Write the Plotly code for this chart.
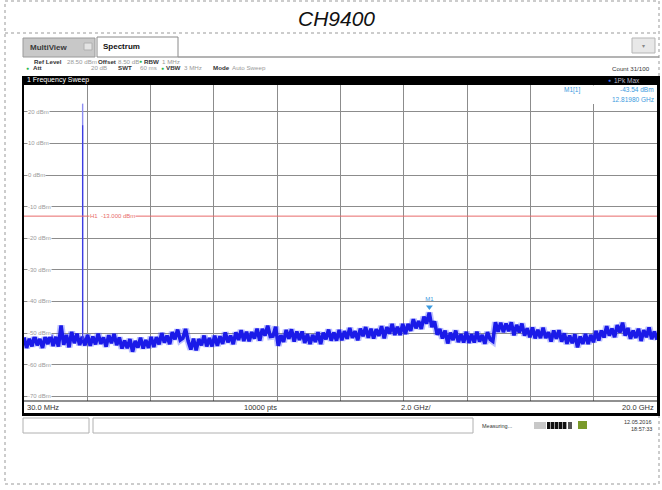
import plotly.graph_objects as go

# ---------------- data ----------------
f_start_ghz = 0.03
f_stop_ghz = 20.0
ref_level_dbm = 28.5
display_range_db = 100.0

# displayed sweep (decimated from 10000 pts), dBm
trace_dbm = [
    -51.4, -54.7, -51.8, -54.2, -50.8, -53.9, -51.9, -54.7, -51.1, -53.5, -50.6, -54.1,
    -51.2, -54.3, -47.6, -53.7, -50.6, -54.5, -49.6, -53.2, -50.2, -53.8, -51.2, -53.9,
    -50.6, -54.0, -51.1, -53.6, -50.2, -53.4, -51.4, -54.3, -50.7, -53.2, -50.3, -53.8,
    -51.4, -54.9, -52.4, -54.8, -51.9, -55.9, -52.5, -54.6, -51.5, -54.9, -52.2, -54.7,
    -51.2, -54.4, -51.3, -53.6, -50.0, -53.0, -50.8, -53.5, -49.7, -52.0, -48.9, -52.2,
    -51.6, -48.7, -52.6, -55.2, -51.8, -55.5, -51.9, -53.9, -50.8, -54.2, -51.6, -54.2,
    -50.8, -54.0, -51.0, -53.4, -49.8, -52.9, -50.8, -53.5, -49.8, -52.2, -49.1, -52.5,
    -49.6, -52.6, -49.7, -51.7, -48.6, -52.4, -48.7, -50.8, -47.7, -51.1, -51.0, -48.0,
    -54.0, -50.7, -52.8, -49.0, -51.8, -48.8, -52.7, -49.5, -52.2, -49.5, -53.1, -50.4,
    -53.5, -50.6, -52.8, -49.7, -53.5, -49.9, -52.0, -48.9, -52.4, -49.8, -52.4, -49.0,
    -52.3, -49.4, -51.8, -48.4, -51.5, -49.4, -52.3, -48.6, -51.0, -48.1, -51.5, -48.6,
    -51.7, -48.8, -50.9, -47.8, -51.7, -48.1, -50.2, -47.1, -50.6, -48.0, -50.6, -47.1,
    -50.3, -47.1, -49.3, -45.6, -48.5, -46.2, -48.7, -44.8, -47.0, -43.54, -48.1, -46.3,
    -50.5, -48.7, -51.7, -49.2, -53.3, -49.9, -52.2, -49.2, -52.9, -50.4, -53.0, -49.6,
    -53.1, -50.4, -53.0, -49.6, -52.7, -50.6, -53.4, -49.7, -52.0, -52.6, -46.6, -49.6,
    -46.7, -49.7, -47.0, -49.4, -46.6, -50.7, -47.4, -49.8, -47.0, -50.8, -48.5, -51.3,
    -48.2, -51.7, -49.0, -51.6, -48.3, -51.6, -49.7, -52.7, -49.2, -51.8, -49.1, -52.7,
    -50.1, -53.4, -50.8, -53.2, -50.4, -54.5, -51.1, -53.4, -50.3, -53.5, -50.6, -52.9,
    -49.3, -52.4, -49.2, -51.4, -47.8, -50.8, -48.6, -51.3, -47.5, -49.8, -46.7, -50.8,
    -48.4, -51.8, -49.2, -51.5, -48.6, -52.5, -49.1, -51.3, -48.2, -51.9, -49.5, -52.1,
]

carrier_freq_ghz = 1.88
carrier_peaks_dbm = [22.6, 15.8]
carrier_base_dbm = -52.0

ref_line_dbm = -13.0
marker_freq_ghz = 12.8198
marker_level_dbm = -43.54

y_ticks = [20, 10, 0, -10, -20, -30, -40, -50, -60, -70]
y_tick_labels = ["20 dBm", "10 dBm", "0 dBm", "-10 dBm", "-20 dBm",
                 "-30 dBm", "-40 dBm", "-50 dBm", "-60 dBm", "-70 dBm"]
n_divisions = 10

# ---------------- layout helpers (pixel -> paper) ----------------
W, H = 662, 490
PL, PR, PT, PB = 24, 657, 85, 401
UI = "Liberation Sans"


def px(x):
    return (x - PL) / (PR - PL)


def py(y):
    return (PB - y) / (PB - PT)


n = len(trace_dbm)
span = f_stop_ghz - f_start_ghz
freqs = [f_start_ghz + i * span / (n - 1) for i in range(n)]
grid_x = [f_start_ghz + k * span / n_divisions for k in range(1, n_divisions)]

fig = go.Figure()

# trace fuzz + trace
fig.add_trace(go.Scatter(x=freqs, y=trace_dbm, mode="lines",
                         line=dict(color="rgba(70,80,255,0.35)", width=7),
                         hoverinfo="skip", showlegend=False))
fig.add_trace(go.Scatter(x=freqs, y=trace_dbm, mode="lines",
                         line=dict(color="#1a1ae8", width=3.6),
                         showlegend=False))
# carrier
fig.add_trace(go.Scatter(x=[carrier_freq_ghz, carrier_freq_ghz],
                         y=[carrier_base_dbm, carrier_peaks_dbm[0]], mode="lines",
                         line=dict(color="#8d8df2", width=1.4), showlegend=False))
fig.add_trace(go.Scatter(x=[carrier_freq_ghz, carrier_freq_ghz],
                         y=[carrier_base_dbm, carrier_peaks_dbm[1]], mode="lines",
                         line=dict(color="#3a3ae0", width=1.2), showlegend=False))
# reference line H1
fig.add_trace(go.Scatter(x=[f_start_ghz, f_stop_ghz], y=[ref_line_dbm, ref_line_dbm],
                         mode="lines", line=dict(color="#e86a6a", width=1),
                         showlegend=False))
# marker M1
fig.add_trace(go.Scatter(x=[marker_freq_ghz], y=[marker_level_dbm + 1.8], mode="markers+text",
                         marker=dict(symbol="triangle-down", size=6, color="#3c9be0"),
                         text=["M1"], textposition="top center",
                         textfont=dict(size=6, color="#3c9be0", family=UI),
                         showlegend=False))

shapes = []
annotations = []


def rect(x0, y0, x1, y1, fill=None, line=None, lw=1, dash=None, layer="above"):
    d = dict(type="rect", xref="paper", yref="paper",
             x0=px(x0), x1=px(x1), y0=py(y1), y1=py(y0), layer=layer,
             line=dict(width=lw if line else 0, color=line or "rgba(0,0,0,0)"))
    if dash:
        d["line"]["dash"] = dash
    if fill:
        d["fillcolor"] = fill
    shapes.append(d)


def hline(x0, x1, y, color, lw=1, dash=None):
    d = dict(type="line", xref="paper", yref="paper", x0=px(x0), x1=px(x1),
             y0=py(y), y1=py(y), line=dict(color=color, width=lw))
    if dash:
        d["line"]["dash"] = dash
    shapes.append(d)


def text(x, y, s, size=7, color="#333", anchor="left", bold=False, bg=None, family=UI):
    a = dict(xref="paper", yref="paper", x=px(x), y=py(y), text=("<b>%s</b>" % s) if bold else s,
             showarrow=False, xanchor=anchor, yanchor="middle",
             font=dict(size=size, color=color, family=family), borderpad=0)
    if bg:
        a["bgcolor"] = bg
    annotations.append(a)


# outer dotted frame and title separator
rect(5, 1, 659, 484, line="#999", lw=1, dash="dot")
hline(5, 659, 33, "#999", 1, "dot")
text(336, 18, "<i>CH9400</i>", size=21, color="#111", anchor="center", family="Liberation Sans")

# tabs
rect(23, 38, 95, 57, fill="#c8c8c8", line="#9a9a9a")
rect(84, 43, 92, 50, fill="#e4e4e4", line="#b0b0b0")
rect(97, 37, 178, 57, fill="#ffffff", line="#8a8a8a")
hline(178, 659, 57, "#9a9a9a", 1.5)
text(29, 47, "MultiView", size=8, color="#3a3a3a", bold=True)
text(102, 46, "Spectrum", size=8, color="#111", bold=True)
rect(632, 38, 655, 53, fill="#e8e8e8", line="#b5b5b5")
text(643.5, 45.5, "▾", size=6, color="#888", anchor="center")

# setting lines
S = 6.2
text(33, 61, "Ref Level", S, "#333", bold=True)
text(66, 61, "28.50 dBm", S, "#999")
text(97, 61, "Offset", S, "#333", bold=True)
text(117, 61, "8.50 dB", S, "#999")
text(140, 61, "●", 5, "#2db84a", anchor="center")
text(143, 61, "RBW", S, "#333", bold=True)
text(161, 61, "1 MHz", S, "#999")
text(27, 68, "●", 5, "#2db84a", anchor="center")
text(32, 68, "Att", S, "#333", bold=True)
text(108, 68, "20 dB", S, "#999", anchor="right")
text(117, 68, "SWT", S, "#333", bold=True)
text(158, 68, "60 ms", S, "#999", anchor="right")
text(162, 68, "●", 5, "#2db84a", anchor="center")
text(165, 68, "VBW", S, "#333", bold=True)
text(183, 68, "3 MHz", S, "#999")
text(212, 68, "Mode", S, "#333", bold=True)
text(231, 68, "Auto Sweep", S, "#999")
text(651, 69, "Count 31/100", S, "#333", anchor="right")

# black title bar of the window
rect(22, 76, 660, 85, fill="#000000")
text(26, 80.5, "1 Frequency Sweep", 7, "#ffffff")
text(609, 80.5, "●", 5, "#3a6cf0", anchor="center")
text(613, 80.5, "1Pk Max", 6.5, "#b8b8c8")

# frame
rect(22, 76, 24, 416, fill="#000000")
rect(657, 76, 660, 416, fill="#000000")
rect(22, 413, 660, 416, fill="#000000")
hline(24, 657, 401, "#222", 1.2)

# marker info box
rect(545, 85.5, 656.5, 104, fill="#ffffff")
text(563, 90, "M1[1]", 6.5, "#3c9be0")
text(655, 90, "-43.54 dBm", 6.5, "#3c9be0", anchor="right")
text(655, 99.5, "12.81980 GHz", 6.5, "#3c9be0", anchor="right")

# y labels
for v, lab in zip(y_ticks, y_tick_labels):
    yp = PT + (ref_level_dbm - v) / display_range_db * (PB - PT)
    text(27, yp, lab, 6, "#9a9a9a", bg="#ffffff")

# H1 label
yh = PT + (ref_level_dbm - ref_line_dbm) / display_range_db * (PB - PT)
text(89, yh, "H1  -13.000 dBm", 6, "#e86a6a", bg="#ffffff")

# bottom labels
text(26, 407.5, "30.0 MHz", 7.5, "#333")
text(260, 407.5, "10000 pts", 7.5, "#333", anchor="center")
text(400, 407.5, "2.0 GHz/", 7.5, "#333")
text(655, 407.5, "20.0 GHz", 7.5, "#333", anchor="right")

# status bar
rect(23, 418, 89, 433, fill="#ffffff", line="#b0b0b0")
rect(93, 418, 473, 433, fill="#ffffff", line="#b0b0b0")
text(481, 425.5, "Measuring...", 5.5, "#333")
rect(534, 422, 546, 429, fill="#c8c8c8")
for bx in [547, 551, 555, 559, 563]:
    rect(bx, 422, bx + 3.4, 429, fill="#111111")
rect(568, 422, 572, 429, fill="#555555")
rect(578, 421, 587, 429, fill="#7a9a2a")
text(653, 422, "12.05.2016", 5.5, "#333", anchor="right")
text(653, 429, "18:57:33", 5.5, "#333", anchor="right")

fig.update_layout(
    width=W, height=H, autosize=False,
    margin=dict(l=PL, r=W - PR, t=PT, b=H - PB, pad=0),
    paper_bgcolor="#ffffff", plot_bgcolor="#ffffff",
    showlegend=False,
    xaxis=dict(range=[f_start_ghz, f_stop_ghz], tickvals=grid_x, showticklabels=False,
               showgrid=True, gridcolor="#8c8c8c", gridwidth=1, zeroline=False,
               ticks="", showline=False, fixedrange=True),
    yaxis=dict(range=[ref_level_dbm - display_range_db, ref_level_dbm], tickvals=y_ticks,
               showticklabels=False, showgrid=True, gridcolor="#8c8c8c", gridwidth=1,
               zeroline=False, ticks="", showline=False, fixedrange=True),
    shapes=shapes, annotations=annotations,
)

fig.write_html("out.html", post_script="document.body.style.margin='0';",
               config={"displayModeBar": False})
